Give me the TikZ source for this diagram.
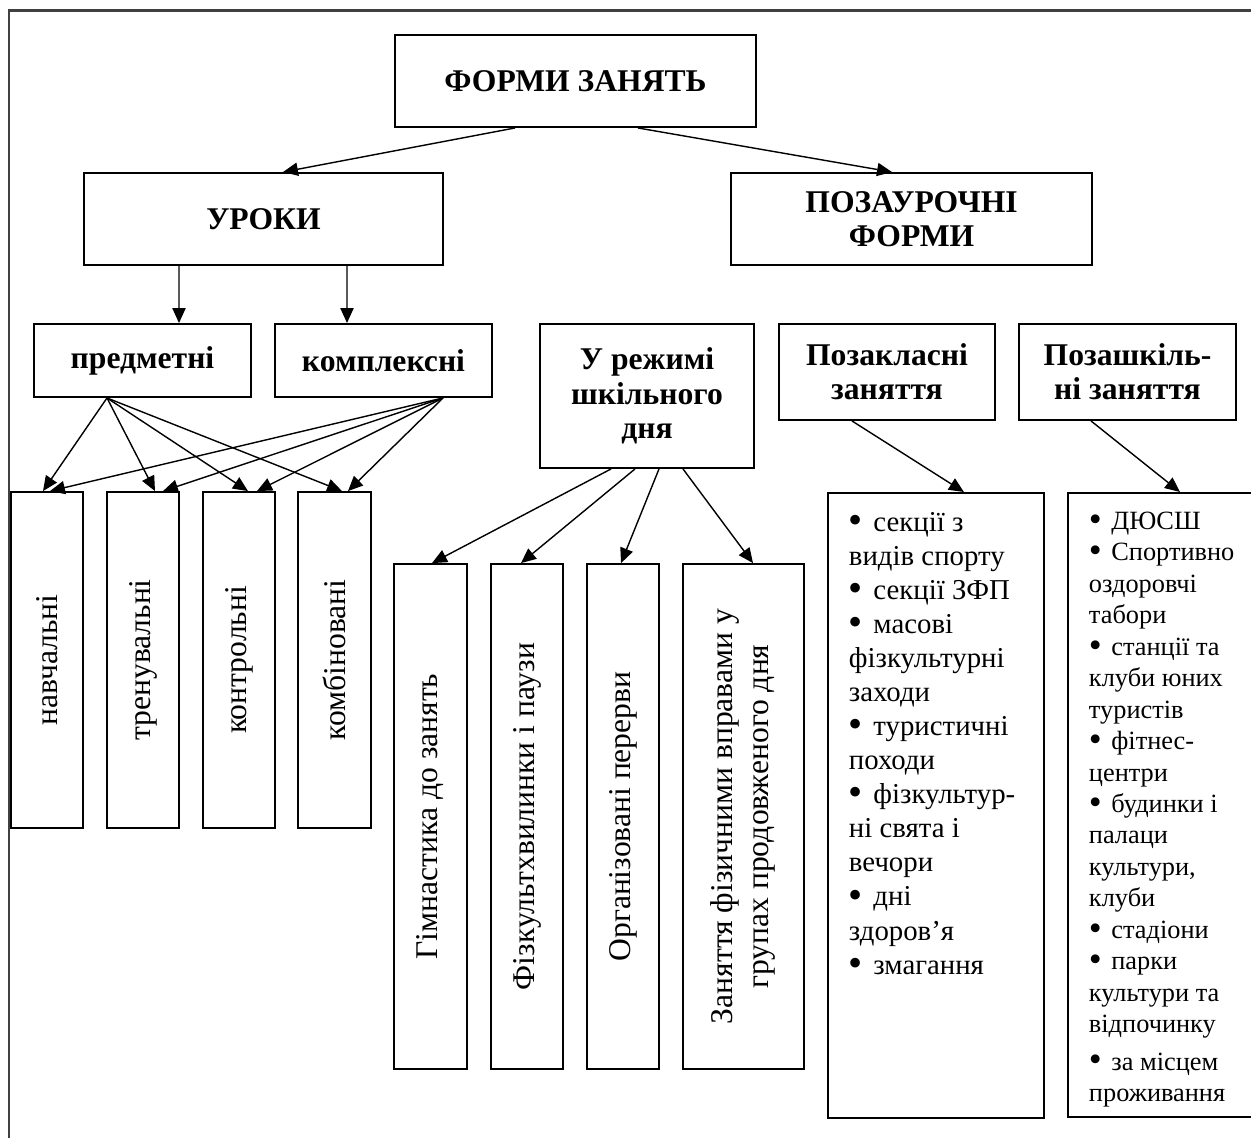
\documentclass[tikz,border=0pt]{standalone}
\usepackage{fontspec}
\setmainfont{Liberation Serif}
\usepackage{graphicx}
\usetikzlibrary{arrows.meta}

\newcommand\bul{\makebox[0.85em][l]{\raisebox{-0.07em}{\scalebox{1.4}{\textbullet}}}}

\tikzset{
  box/.style={draw, line width=1.1pt, inner sep=0pt, align=center,
    font=\fontsize{18}{19.5}\selectfont\bfseries},
  kindbox/.style={draw, line width=1.1pt, inner sep=0pt,
    font=\fontsize{18}{20.5}\selectfont},
  listbox/.style={draw, line width=1.1pt, anchor=north west,
    inner xsep=0.42cm, inner ysep=0.38cm},
  link/.style={->, line width=0.8pt},
}

\begin{document}
\begin{tikzpicture}[x=0.02cm, y=-0.02cm, >={Triangle[length=8.5pt,width=7.5pt]}]
\useasboundingbox (0,0) rectangle (1251,1137);
% outer frame
\draw[line width=1.7pt, black!75] (9,1200) |- (1300,10);

% top levels
\node[box, minimum width=7.22cm, minimum height=1.84cm] (forms) at (575.5,81) {ФОРМИ ЗАНЯТЬ};
\node[box, minimum width=7.18cm, minimum height=1.84cm] (uroky) at (263.5,219) {УРОКИ};
\node[box, minimum width=7.22cm, minimum height=1.84cm] (pozaur) at (911.5,219) {ПОЗАУРОЧНІ\\ФОРМИ};
\draw[link] ([xshift=-1.21cm]forms.south) -- ([xshift=0.39cm]uroky.north);
\draw[link] ([xshift=1.25cm]forms.south) -- ([xshift=-0.39cm]pozaur.north);

% lessons
\node[box, minimum width=4.34cm, minimum height=1.46cm] (predm) at (142.5,360.5) {предметні};
\node[box, minimum width=4.34cm, minimum height=1.46cm] (kompl) at (383.5,360.5) {комплексні};
\draw[link] ([xshift=-1.69cm]uroky.south) -- ([xshift=0.73cm]predm.north);
\draw[link] ([xshift=1.67cm]uroky.south) -- ([xshift=-0.73cm]kompl.north);

\node[kindbox, minimum width=1.45cm, minimum height=6.72cm] (navch) at (47,660) {\rotatebox{90}{навчальні}};
\node[kindbox, minimum width=1.45cm, minimum height=6.72cm] (tren) at (143,660) {\rotatebox{90}{тренувальні}};
\node[kindbox, minimum width=1.45cm, minimum height=6.72cm] (kontr) at (239,660) {\rotatebox{90}{контрольні}};
\node[kindbox, minimum width=1.45cm, minimum height=6.72cm] (komb) at (334.5,660) {\rotatebox{90}{комбіновані}};

\draw[link] ([xshift=-0.71cm]predm.south) -- ([xshift=-0.08cm]navch.north);
\draw[link] ([xshift=-0.71cm]predm.south) -- ([xshift=0.24cm]tren.north);
\draw[link] ([xshift=-0.71cm]predm.south) -- ([xshift=0.18cm]kontr.north);
\draw[link] ([xshift=-0.71cm]predm.south) -- ([xshift=0.15cm]komb.north);
\draw[link] ([xshift=1.19cm]kompl.south) -- ([xshift=0.06cm]navch.north);
\draw[link] ([xshift=1.19cm]kompl.south) -- ([xshift=0.40cm]tren.north);
\draw[link] ([xshift=1.19cm]kompl.south) -- ([xshift=0.36cm]kontr.north);
\draw[link] ([xshift=1.19cm]kompl.south) -- ([xshift=0.27cm]komb.north);

% school day
\node[box, minimum width=4.28cm, minimum height=2.88cm] (rezhym) at (647,396) {У режимі\\шкільного\\дня};
\node[kindbox, minimum width=1.46cm, minimum height=10.1cm] (gimn) at (430.5,816.5) {\rotatebox{90}{Гімнастика до занять}};
\node[kindbox, minimum width=1.44cm, minimum height=10.1cm] (fizkh) at (527,816.5) {\rotatebox{90}{Фізкультхвилинки і паузи}};
\node[kindbox, minimum width=1.44cm, minimum height=10.1cm] (perer) at (623,816.5) {\rotatebox{90}{Організовані перерви}};
\node[kindbox, minimum width=2.42cm, minimum height=10.1cm] (grupy) at (743.5,816.5)
  {\rotatebox{90}{\begin{tabular}{@{}c@{}}Заняття фізичними вправами у\\групах продовженого дня\end{tabular}}};
\draw[link] ([xshift=-0.72cm]rezhym.south) -- ([xshift=0.03cm]gimn.north);
\draw[link] ([xshift=-0.24cm]rezhym.south) -- ([xshift=-0.12cm]fizkh.north);
\draw[link] ([xshift=0.24cm]rezhym.south) -- ([xshift=-0.04cm]perer.north);
\draw[link] ([xshift=0.72cm]rezhym.south) -- ([xshift=0.19cm]grupy.north);

% out of class
\node[box, minimum width=4.32cm, minimum height=1.92cm] (pozakl) at (887,372) {Позакласні\\заняття};
\node[box, minimum width=4.34cm, minimum height=1.92cm] (pozashk) at (1127.5,372) {Позашкіль-\\ні заняття};

\node[listbox] (pozaklList) at (827,492) {\parbox[c][11.74cm][t]{3.48cm}{\fontsize{16.4}{19.4}\selectfont\raggedright
\mbox{\bul секції з}\\
\mbox{видів спорту}\\
\mbox{\bul секції ЗФП}\\
\mbox{\bul масові}\\
\mbox{фізкультурні}\\
заходи\\
\mbox{\bul туристичні}\\
походи\\
\mbox{\bul фізкультур-}\\
\mbox{ні свята і}\\
вечори\\
\mbox{\bul дні}\\
здоров’я\\
\mbox{\bul змагання}}};

\node[listbox] (pozashkList) at (1067,492) {\parbox[c][11.72cm][t]{3.50cm}{\fontsize{15}{17.9}\selectfont\raggedright
\mbox{\bul ДЮСШ}\\
\mbox{\bul Спортивно}\\
оздоровчі\\
табори\\
\mbox{\bul станції та}\\
\mbox{клуби юних}\\
туристів\\
\mbox{\bul фітнес-}\\
центри\\
\mbox{\bul будинки і}\\
палаци\\
культури,\\
клуби\\
\mbox{\bul стадіони}\\
\mbox{\bul парки}\\
\mbox{культури та}\\
відпочинку\\[3.4pt]
\mbox{\bul за місцем}\\
проживання}};

\draw[link] ([xshift=-0.70cm]pozakl.south) -- ([xshift=0.56cm]pozaklList.north);
\draw[link] ([xshift=-0.73cm]pozashk.south) -- ([xshift=2.26cm]pozashkList.north west);
\end{tikzpicture}
\end{document}
